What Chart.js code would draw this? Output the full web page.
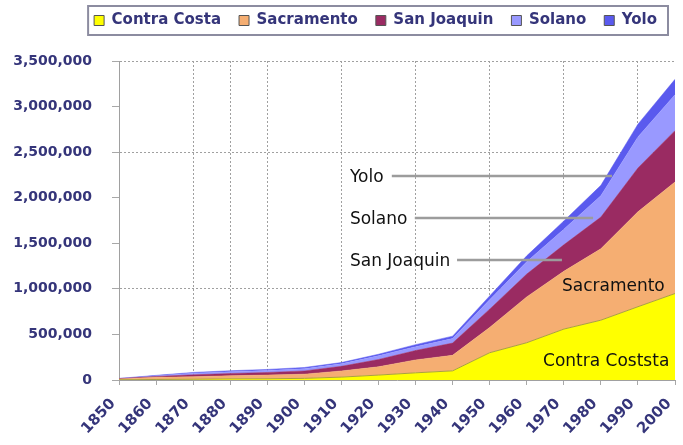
<!DOCTYPE html>
<html>
<head>
<meta charset="utf-8">
<script src="https://cdn.jsdelivr.net/npm/chart.js@4"></script>
<style>
  html, body { margin: 0; padding: 0; background: #fff; }
  #wrap { width: 683px; height: 445px; }
</style>
</head>
<body>
<div id="wrap"><canvas id="popChart" width="683" height="445"></canvas></div>
<script>
// decades on the x axis
const years = ["1850", "1860", "1870", "1880", "1890", "1900", "1910", "1920",
  "1930", "1940", "1950", "1960", "1970", "1980", "1990", "2000"];

// population per county (stacked, bottom to top)
const contraCosta = [2786, 5328, 8461, 12525, 13515, 18046, 31674, 53889,
  78608, 100450, 298984, 409030, 558389, 656380, 803732, 948816];
const sacramento = [9087, 24142, 26830, 34390, 40339, 45915, 67806, 91029,
  141999, 170333, 277140, 502778, 634373, 783381, 1041219, 1223499];
const sanJoaquin = [3647, 9435, 21050, 24349, 28629, 35452, 50731, 79905,
  102940, 134207, 200750, 249989, 290208, 347342, 480628, 563598];
const solano = [580, 7169, 16871, 18475, 20946, 24143, 27559, 40602,
  40834, 49118, 104833, 134597, 169941, 235203, 340421, 394542];
const yolo = [1086, 4716, 9899, 11772, 12684, 13618, 13926, 17105,
  23644, 27243, 40640, 65727, 91788, 113374, 141092, 168660];

const countyNames = ["Contra Costa", "Sacramento", "San Joaquin", "Solano", "Yolo"];
const yMax = 3500000;
const yStep = 500000;
// dotted grid lines only on some ticks
const gridYears = ["1870", "1880", "1890", "1910", "1930", "1950", "1970", "1990"];
const gridValues = [1000000, 2500000, 3500000];
// labels written on the plot
const calloutNames = ["Yolo", "Solano", "San Joaquin", "Sacramento", "Contra Coststa"];

const navy = "#35357a";

// box round the legend, plus some room under it
const legendFrame = {
  id: "legendFrame",
  afterInit(chart) {
    const lg = chart.legend;
    const fit = lg.fit.bind(lg);
    lg.fit = function () { fit(); this.height += 23; };
  },
  afterDraw(chart) {
    const lg = chart.legend;
    if (!lg || !lg.legendHitBoxes.length) return;
    const boxes = lg.legendHitBoxes;
    const left = Math.min(...boxes.map(b => b.left)) - 6;
    const right = Math.max(...boxes.map(b => b.left + b.width)) + 11;
    const ctx = chart.ctx;
    ctx.save();
    ctx.strokeStyle = "#8c8ca0";
    ctx.lineWidth = 2;
    ctx.strokeRect(left, 6, right - left, 29);
    ctx.restore();
  }
};

// county names with leader lines
const callouts = {
  id: "callouts",
  afterDatasetsDraw(chart) {
    const x = chart.scales.x, y = chart.scales.y, ctx = chart.ctx;
    // [text index, value, line start index, line end index]
    const spots = [
      [6.23, 2238000, 7.36, 13.3],
      [6.23, 1777000, 7.98, 12.79],
      [6.23, 1317000, 9.12, 11.95],
      [11.95, 1042000, null, null],
      [11.44, 219000, null, null]
    ];
    ctx.save();
    ctx.font = "17px 'DejaVu Sans'";
    ctx.fillStyle = "#111";
    ctx.textBaseline = "alphabetic";
    spots.forEach((s, i) => {
      const py = y.getPixelForValue(s[1]);
      ctx.fillText(calloutNames[i], x.getPixelForValue(s[0]), py + 6);
      if (s[2] !== null) {
        ctx.strokeStyle = "#9c9c9c";
        ctx.lineWidth = 2.5;
        ctx.beginPath();
        ctx.moveTo(x.getPixelForValue(s[2]), py);
        ctx.lineTo(x.getPixelForValue(s[3]), py);
        ctx.stroke();
      }
    });
    ctx.restore();
  }
};

const colors = ["#ffff00", "#f5ae72", "#9a2b62", "#9999ff", "#5a5aee"];
const series = [contraCosta, sacramento, sanJoaquin, solano, yolo];

const ctx = document.getElementById("popChart").getContext("2d");
new Chart(ctx, {
  type: "line",
  data: {
    labels: years,
    datasets: series.map((vals, i) => ({
      label: countyNames[i],
      data: vals,
      backgroundColor: colors[i],
      borderColor: i === 0 ? "#aaa040" : colors[i],
      borderWidth: i === 0 ? 1 : 0.5,
      fill: i === 0 ? "origin" : "-1",
      pointRadius: 0,
      tension: 0
    }))
  },
  options: {
    responsive: false,
    animation: false,
    devicePixelRatio: 1,
    layout: { padding: { top: -5, right: 8, left: 0, bottom: 0 } },
    scales: {
      x: {
        type: "category",
        offset: false,
        afterFit: s => { s.height = 65; s.paddingLeft = 0; s.paddingRight = 0; },
        grid: {
          color: c => gridYears.includes(years[c.index]) ? "#a0a0a0" : "rgba(0,0,0,0)",
          lineWidth: 1,
          tickColor: "#a8a8a8",
          tickLength: 5
        },
        border: { color: "#a0a0a0", dash: [2, 2] },
        ticks: {
          autoSkip: false,
          minRotation: 47,
          maxRotation: 47,
          font: { family: "DejaVu Sans", size: 15, weight: "bold" },
          color: navy,
          padding: 10,
          labelOffset: -6
        }
      },
      y: {
        stacked: true,
        min: 0,
        max: yMax,
        afterFit: s => { s.width = 119; },
        grid: {
          color: c => gridValues.includes(c.tick.value) ? "#a0a0a0" : "rgba(0,0,0,0)",
          lineWidth: 1,
          tickColor: "#a8a8a8",
          tickLength: 7
        },
        border: { color: "#a0a0a0", dash: [2, 2] },
        ticks: {
          stepSize: yStep,
          font: { family: "DejaVu Sans", size: 14, weight: "bold" },
          color: navy,
          padding: 20,
          callback: v => v.toLocaleString("en-US")
        }
      }
    },
    plugins: {
      tooltip: { enabled: false },
      legend: {
        position: "top",
        align: "end",
        labels: {
          font: { family: "DejaVu Sans", size: 15, weight: "bold" },
          color: navy,
          boxWidth: 10,
          boxHeight: 10,
          padding: 18,
          generateLabels(chart) {
            const items = Chart.defaults.plugins.legend.labels.generateLabels(chart);
            items.forEach(it => { it.strokeStyle = "#555"; it.lineWidth = 1; });
            return items;
          }
        }
      }
    }
  },
  plugins: [legendFrame, callouts]
});
</script>
</body>
</html>
